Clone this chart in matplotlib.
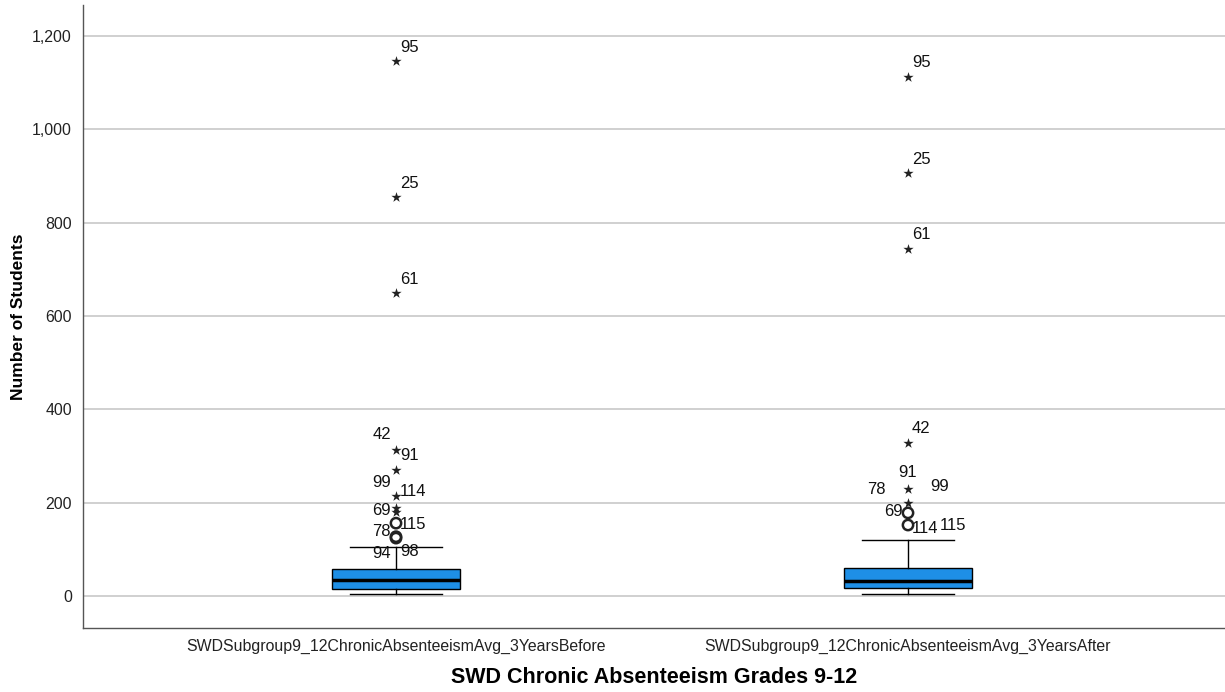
import matplotlib
matplotlib.use("Agg")
import matplotlib.pyplot as plt

plt.rcParams['font.family'] = ['Liberation Sans', 'DejaVu Sans']

categories = ["SWDSubgroup9_12ChronicAbsenteeismAvg_3YearsBefore",
              "SWDSubgroup9_12ChronicAbsenteeismAvg_3YearsAfter"]
# box stats: whislo, q1, median, q3, whishi
whislo = [4, 4]
q1 = [15, 17]
med = [35, 32]
q3 = [58, 60]
whishi = [105, 120]
# extreme (star) outliers and mild (circle) outliers
stars = [[1146, 855, 649, 313, 270, 214, 188, 180],
         [1112, 906, 744, 328, 229, 199]]
circles = [[156, 127, 124],
           [178, 152]]
# case labels: (text, label y value, side)
labels = [
    [("95", 1176, "r"), ("25", 883, "r"), ("61", 677, "r"), ("42", 345, "l"),
     ("91", 300, "r"), ("99", 244, "l"), ("114", 223, "r"), ("69", 184, "l"),
     ("78", 139, "l"), ("115", 154, "r"), ("94", 92, "l"), ("98", 96, "r")],
    [("95", 1142, "r"), ("25", 934, "r"), ("61", 774, "r"), ("42", 358, "r"),
     ("91", 264, "c"), ("78", 229, "ll"), ("99", 234, "rr"), ("69", 180, "l"),
     ("114", 144, "r"), ("115", 152, "rrr")],
]
yticks = [0, 200, 400, 600, 800, 1000, 1200]

fig = plt.figure(figsize=(12.25, 6.92), dpi=100)
ax = fig.add_axes([83/1225, 64/692, 1 - 83/1225, (628-5)/692])

stats = []
for i in range(2):
    stats.append(dict(whislo=whislo[i], q1=q1[i], med=med[i], q3=q3[i],
                      whishi=whishi[i], fliers=[], label=categories[i]))
bp = ax.bxp(stats, positions=[1, 2], widths=0.25, patch_artist=True,
            boxprops=dict(facecolor='#1E8FE6', edgecolor='black', linewidth=1.0),
            medianprops=dict(color='black', linewidth=2.5),
            whiskerprops=dict(color='black', linewidth=1.0),
            capprops=dict(color='black', linewidth=1.0),
            capwidths=0.18, zorder=3)

for i in range(2):
    pos = i + 1
    ax.scatter([pos]*len(stars[i]), stars[i], marker='*', s=60, color='#222222',
               linewidths=0, zorder=4)
    ax.scatter([pos]*len(circles[i]), circles[i], marker='o', s=55,
               facecolors='none', edgecolors='#222222', linewidths=1.8, zorder=4)
    offs = {"r": (0.008, 'left'), "l": (-0.01, 'right'), "c": (0.0, 'center'),
            "ll": (-0.043, 'right'), "rr": (0.043, 'left'), "rrr": (0.062, 'left')}
    for txt, yv, side in labels[i]:
        dx, ha = offs[side]
        ax.text(pos + dx, yv, txt, ha=ha, va='center', fontsize=12,
                color='#111111', zorder=5)

ax.set_xlim(1 - (396-83)/512, 2 + (1225-908)/512)
ax.set_ylim(-68.6, 1266)
ax.set_yticks(yticks)
ax.set_yticklabels([f"{v:,}" for v in yticks])
ax.set_xticks([1, 2])
ax.set_xticklabels(categories)
ax.tick_params(axis='y', length=0, labelsize=11.4, colors='#222222', pad=8)
ax.tick_params(axis='x', length=0, labelsize=11.4, colors='#222222', pad=8)
ax.yaxis.grid(True, color='#C8C8C8', linewidth=1.2)
ax.set_axisbelow(True)
for s in ['top', 'right']:
    ax.spines[s].set_visible(False)
for s in ['left', 'bottom']:
    ax.spines[s].set_color('#555555')
    ax.spines[s].set_linewidth(1.0)

ax.set_ylabel("Number of Students", fontsize=12.5, fontweight='bold', labelpad=4)
ax.set_xlabel("SWD Chronic Absenteeism Grades 9-12", fontsize=15.5, fontweight='bold',
              labelpad=9)

fig.savefig("out.png", dpi=100)
